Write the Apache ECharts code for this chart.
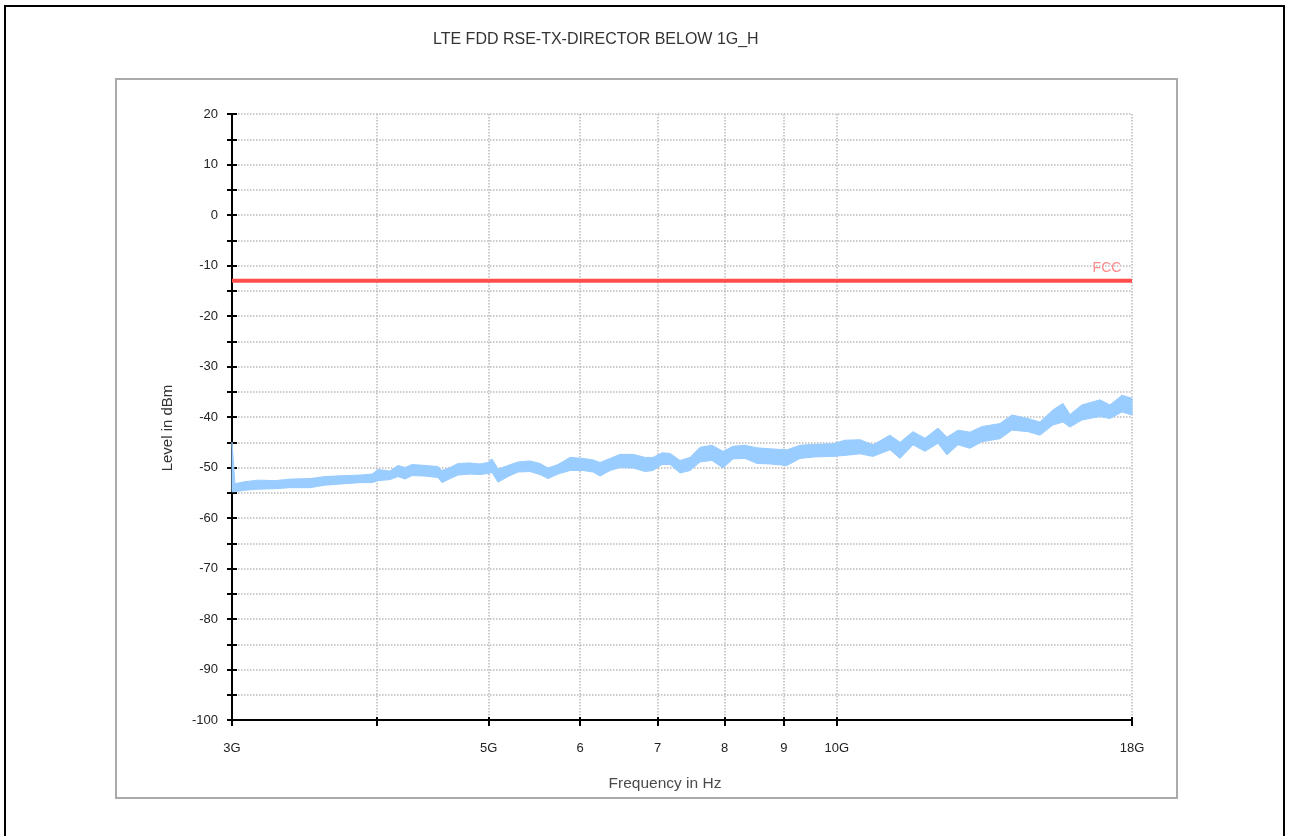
<!DOCTYPE html>
<html>
<head>
<meta charset="utf-8">
<title>LTE FDD RSE-TX-DIRECTOR BELOW 1G_H</title>
<script src="https://cdn.jsdelivr.net/npm/echarts@6/dist/echarts.min.js"></script>
<style>
  html, body { margin: 0; padding: 0; background: #ffffff; }
  #chart { width: 1290px; height: 836px; }
</style>
</head>
<body>
<div id="chart"></div>
<script>
// ---- data ----
const chartTitle = 'LTE FDD RSE-TX-DIRECTOR BELOW 1G_H';
const xAxisName = 'Frequency in Hz';
const yAxisName = 'Level in dBm';

// frequency points of the measured trace, in GHz
const freqGHz = [
  3.000, 3.018, 3.079, 3.159, 3.268, 3.367, 3.504, 3.610, 3.757, 3.871,
  3.965, 4.012, 4.109, 4.175, 4.234, 4.293, 4.406, 4.521, 4.557, 4.631,
  4.705, 4.819, 4.916, 4.994, 5.034, 5.095, 5.197, 5.302, 5.430, 5.539,
  5.628, 5.741, 5.880, 6.035, 6.156, 6.243, 6.368, 6.496, 6.667, 6.828,
  6.936, 7.062, 7.175, 7.320, 7.467, 7.617, 7.801, 7.974, 8.134, 8.331,
  8.532, 8.756, 9.057, 9.295, 9.577, 9.926, 10.165, 10.473, 10.748, 11.118,
  11.342, 11.639, 11.920, 12.232, 12.453, 12.729, 13.036, 13.352, 13.839, 14.173,
  14.632, 14.985, 15.378, 15.688, 15.908, 16.292, 16.887, 17.227, 17.643, 18.000
];
// upper edge of the noisy trace, dBm
const upperDbm = [
  -45.0, -53.2, -52.8, -52.5, -52.6, -52.3, -52.2, -51.8, -51.6, -51.5,
  -51.3, -50.4, -50.7, -49.6, -50.0, -49.4, -49.6, -49.8, -50.6, -50.0,
  -49.2, -49.1, -49.3, -49.0, -48.3, -50.3, -49.6, -48.9, -48.7, -49.2,
  -50.1, -49.4, -48.0, -48.2, -48.5, -49.0, -48.2, -47.4, -47.4, -48.0,
  -48.0, -47.1, -47.2, -48.6, -48.0, -46.0, -45.6, -46.8, -45.8, -45.6,
  -46.1, -46.3, -46.5, -45.6, -45.4, -45.3, -44.6, -44.5, -45.5, -43.6,
  -45.0, -42.9, -44.2, -42.2, -44.0, -42.6, -43.0, -41.9, -41.3, -39.6,
  -40.3, -41.0, -38.6, -37.3, -39.5, -37.6, -36.6, -37.6, -35.7, -36.3
];
// lower edge of the noisy trace, dBm
const lowerDbm = [
  -54.8, -54.8, -54.5, -54.3, -54.2, -54.0, -54.0, -53.5, -53.2, -53.0,
  -53.0, -52.6, -52.4, -51.8, -52.3, -51.6, -51.7, -52.0, -53.0, -52.2,
  -51.5, -51.3, -51.4, -51.2, -51.0, -52.9, -51.8, -50.9, -50.8, -51.4,
  -52.2, -51.3, -50.6, -50.6, -50.9, -51.7, -50.6, -50.0, -50.1, -50.8,
  -50.6, -49.4, -49.4, -51.1, -50.6, -48.9, -48.6, -50.1, -48.3, -48.2,
  -49.2, -49.3, -49.6, -48.2, -47.9, -47.8, -47.6, -47.3, -47.8, -46.5,
  -48.2, -45.5, -46.8, -45.2, -47.5, -45.5, -46.2, -44.9, -44.3, -42.6,
  -42.9, -43.6, -41.6, -41.0, -42.0, -40.6, -39.9, -40.3, -39.0, -39.6
];

// FCC limit line
const fccLabel = 'FCC';
const fccLimitDbm = -13;
const fccFreqGHz = [3, 18];

// axis ticks
const xTickValues = [3, 4, 5, 6, 7, 8, 9, 10, 18];
const xTickLabels = ['3G', '', '5G', '6', '7', '8', '9', '10G', '18G'];
const yMin = -100, yMax = 20, yStep = 5;

// ---- chart ----
const fontFamily = '"Liberation Sans", Arial, sans-serif';
const chart = echarts.init(document.getElementById('chart'), null, { renderer: 'canvas' });

const traceData = freqGHz.map((f, i) => [f, upperDbm[i], lowerDbm[i]]);
const fccData = fccFreqGHz.map((f, i) => i === fccFreqGHz.length - 1
  ? { value: [f, fccLimitDbm], label: { show: true } }
  : [f, fccLimitDbm]);

function xLabel(v) {
  const idx = xTickValues.findIndex(t => Math.abs(t - v) < 1e-6);
  return idx >= 0 ? xTickLabels[idx] : '';
}

const option = {
  backgroundColor: '#ffffff',
  animation: false,
  title: {
    text: chartTitle,
    left: 428,
    top: 27,
    textStyle: { fontFamily, fontSize: 16, fontWeight: 'normal', color: '#333333' }
  },
  graphic: [
    { type: 'rect', silent: true, z: -10,
      shape: { x: 5, y: 6, width: 1279, height: 900 },
      style: { fill: 'none', stroke: '#000000', lineWidth: 2 } },
    { type: 'rect', silent: true, z: -10,
      shape: { x: 116, y: 79, width: 1061, height: 719 },
      style: { fill: 'none', stroke: '#aaaaaa', lineWidth: 2 } }
  ],
  grid: { left: 232, right: 158, top: 114, bottom: 116, containLabel: false },
  xAxis: [
    {
      type: 'log', logBase: 10, min: 3, max: 18, position: 'bottom',
      name: xAxisName, nameLocation: 'middle', nameGap: 56,
      nameTextStyle: { fontFamily, fontSize: 15.5, color: '#4a4a4a', padding: [0, 34, 0, 0] },
      axisLine: { show: true, onZero: false, lineStyle: { color: '#000000', width: 2 } },
      axisTick: { show: true, inside: false, length: 6, customValues: xTickValues,
        lineStyle: { color: '#000000', width: 2 } },
      axisLabel: { show: true, customValues: xTickValues, margin: 22,
        fontFamily, fontSize: 13, color: '#222222', formatter: v => xLabel(v) },
      splitLine: { show: true, lineStyle: { color: '#bbbbbb', type: 'dotted', width: 1.5 } },
      minorTick: { show: false }, minorSplitLine: { show: false }
    },
    {
      type: 'log', logBase: 10, min: 3, max: 18, position: 'bottom',
      axisLine: { show: false, onZero: false },
      axisTick: { show: true, inside: true, length: 3, customValues: xTickValues,
        lineStyle: { color: '#000000', width: 2 } },
      axisLabel: { show: false, customValues: xTickValues },
      splitLine: { show: false }
    }
  ],
  yAxis: [
    {
      type: 'value', min: yMin, max: yMax, interval: yStep, position: 'left',
      name: yAxisName, nameLocation: 'middle', nameGap: 57, nameRotate: 90,
      nameTextStyle: { fontFamily, fontSize: 15, color: '#333333', padding: [0, 22, 0, 0] },
      axisLine: { show: true, onZero: false, lineStyle: { color: '#000000', width: 2 } },
      axisTick: { show: true, inside: false, length: 5, lineStyle: { color: '#000000', width: 2 } },
      axisLabel: { show: true, margin: 14, fontFamily, fontSize: 13, color: '#222222',
        formatter: v => (Math.round(v) % 10 === 0 ? String(v) : '') },
      splitLine: { show: true, lineStyle: { color: '#bbbbbb', type: 'dotted', width: 1.5 } }
    },
    {
      type: 'value', min: yMin, max: yMax, interval: yStep, position: 'left',
      axisLine: { show: false, onZero: false },
      axisTick: { show: true, inside: true, length: 5, lineStyle: { color: '#000000', width: 2 } },
      axisLabel: { show: false },
      splitLine: { show: false }
    }
  ],
  series: [
    {
      name: 'Trace',
      type: 'custom',
      xAxisIndex: 0, yAxisIndex: 0,
      data: traceData,
      encode: { x: 0, y: [1, 2] },
      z: 3,
      renderItem: function (params, api) {
        if (params.dataIndex !== 0) return null;
        const pts = [];
        for (let i = 0; i < freqGHz.length; i++) pts.push(api.coord([freqGHz[i], upperDbm[i]]));
        for (let i = freqGHz.length - 1; i >= 0; i--) pts.push(api.coord([freqGHz[i], lowerDbm[i]]));
        return {
          type: 'polygon',
          shape: { points: pts },
          style: { fill: '#99ccff', stroke: '#99ccff', lineWidth: 1 }
        };
      }
    },
    {
      name: fccLabel,
      type: 'line',
      xAxisIndex: 0, yAxisIndex: 0,
      data: fccData,
      z: 4,
      symbol: 'circle', symbolSize: 0.1, showSymbol: true,
      itemStyle: { color: 'rgba(0,0,0,0)' },
      lineStyle: { color: '#ff4d4d', width: 4 },
      label: {
        show: false,
        formatter: fccLabel,
        position: 'top', distance: 5, offset: [-25, 0],
        fontFamily, fontSize: 14, color: '#ff8a8a'
      }
    }
  ]
};
chart.setOption(option);
</script>
</body>
</html>
